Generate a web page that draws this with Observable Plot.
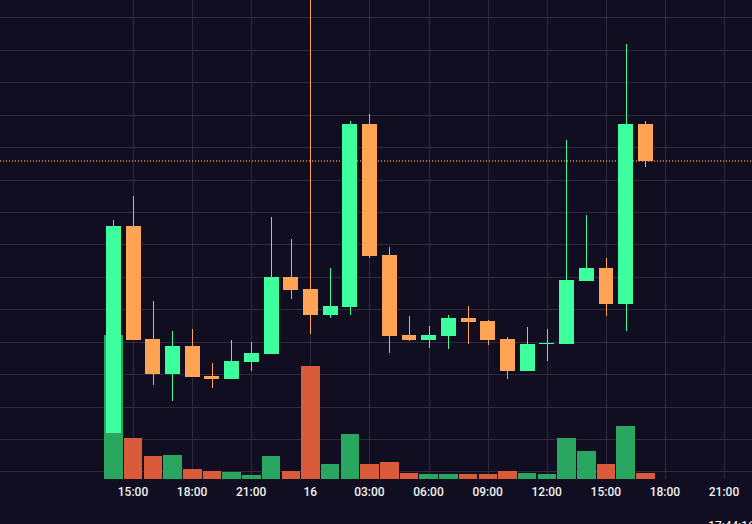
<!DOCTYPE html>
<html>
<head>
<meta charset="utf-8">
<script src="https://cdn.jsdelivr.net/npm/d3@7"></script>
<script src="https://cdn.jsdelivr.net/npm/@observablehq/plot@0.6"></script>
<style>
html,body{margin:0;padding:0;background:#100e20;overflow:hidden}
svg{display:block}
</style>
</head>
<body>
<div id="chart"></div>
<script>
// Hours counted from midnight of the previous day (14 = 14:00, 24 = "16", 38 = 14:00 next day)
const hours  = [14,15,16,17,18,19,20,21,22,23,24,25,26,27,28,29,30,31,32,33,34,35,36,37,38,39,40,41];
const opens  = [91,298,185,150,178,148,145,162,170,247.5,235,209,217,400,269,189,184,188,206,203,185,153,180,180,243,256,220,400];
const closes = [298,184,150,178,147,145,163,171,247.5,234,209,218,400,268,188,184,189,206,202,184,153,180,181,244,256,220,400,363];
const highs  = [304,328,223,193,195,161,184,182,307,285,544,256,403,410,277,208,198,209,218,204,187,197,195,384,309,266,480,403];
const lows   = [91,184,139,123,147,136,145,153,170,225,190,206,209,266,171,183,176,175,180,179,145,153,163,180,243,208,193,357];
const volumes= [144,41,23,24,10,8,7,4,23,8,113,15,45,15,17,6,5,5,5,5,8,6,5,41,28,15,53,6];
const tickHours  = [15,18,21,24,27,30,33,36,39,42,45];
const tickLabels = ["15:00","18:00","21:00","16","03:00","06:00","09:00","12:00","15:00","18:00","21:00"];
const gridLevels = [507,474,442,409,377,344,312,280,247,215,182,150,117,85,53];
const lastPrice  = 363.5;
const clockText  = "17:44:16";
const clockHour  = 44.17;

const bg = "#100e20", up = "#3dff9e", down = "#ffa454", priceLine = "#ff9028", volUp = "#29a760", volDown = "#d95b3a", grid = "#2c2a3c";
const rows = hours.map((h, i) => ({h, o: opens[i], c: closes[i], hi: highs[i], lo: lows[i], v: volumes[i]}));
const volBase = 45;
const isUp = d => d.c >= d.o;

const chart = Plot.plot({
  width: 752, height: 524,
  marginTop: 0, marginLeft: 0, marginRight: 0, marginBottom: 45,
  style: {background: bg, fontFamily: "Roboto, sans-serif"},
  x: {type: "linear", domain: [8.24, 46.41], axis: null},
  y: {domain: [volBase, 524], axis: null},
  marks: [
    Plot.ruleY(gridLevels, {stroke: grid, strokeWidth: 1, shapeRendering: "crispEdges"}),
    Plot.ruleX(tickHours, {stroke: grid, strokeWidth: 1, dx: -0.2, shapeRendering: "crispEdges"}),
    Plot.rectY(rows, {x1: d => d.h - 0.47, x2: d => d.h + 0.47, y1: volBase, y2: d => volBase + d.v,
      fill: d => isUp(d) ? volUp : volDown, shapeRendering: "crispEdges"}),
    Plot.ruleY([lastPrice], {stroke: priceLine, strokeWidth: 1.4, strokeDasharray: "1 2"}),
    Plot.ruleX(rows, {x: "h", y1: "lo", y2: d => Math.min(d.hi, 524), stroke: d => isUp(d) ? up : down, strokeWidth: 1, dx: -0.2, shapeRendering: "crispEdges"}),
    Plot.rectY(rows, {x1: d => d.h - 0.38, x2: d => d.h + 0.38, y1: d => Math.min(d.o, d.c), y2: d => Math.max(d.o, d.c),
      fill: d => isUp(d) ? up : down, shapeRendering: "crispEdges"}),
    Plot.axisX({ticks: tickHours, tickFormat: d => tickLabels[tickHours.indexOf(d)], tickSize: 0, tickPadding: 8,
      fontSize: 12, fontWeight: 500, color: "#f2f2f2", label: null, anchor: "bottom", dx: -0.7}),
    Plot.text([clockText], {x: clockHour, y: volBase, dy: 46.5, text: d => d, textAnchor: "start", fontSize: 12,
      fill: "#ffffff", clip: false})
  ]
});
document.getElementById("chart").append(chart);
</script>
</body>
</html>
